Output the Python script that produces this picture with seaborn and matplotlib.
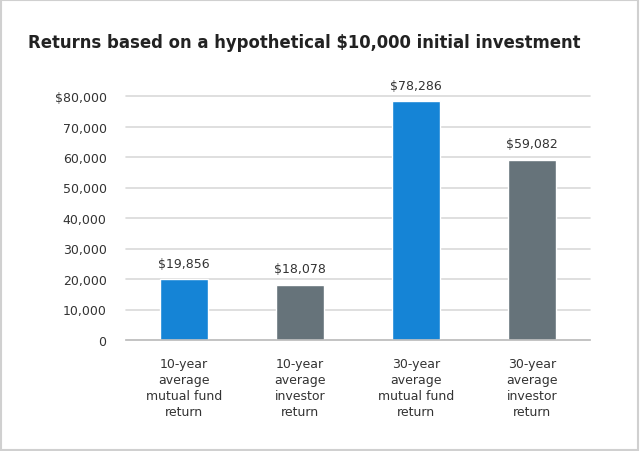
import matplotlib
matplotlib.use("Agg")
import matplotlib.pyplot as plt
import seaborn as sns
import pandas as pd
from matplotlib.patches import Rectangle
from matplotlib.ticker import FuncFormatter

categories = ["10-year\naverage\nmutual fund\nreturn",
              "10-year\naverage\ninvestor\nreturn",
              "30-year\naverage\nmutual fund\nreturn",
              "30-year\naverage\ninvestor\nreturn"]
values = [19856, 18078, 78286, 59082]
bar_colors = ["#1584D6", "#66737A", "#1584D6", "#66737A"]
title = "Returns based on a hypothetical $10,000 initial investment"

sns.set_theme(style="white")
plt.rcParams['font.family'] = ['DejaVu Sans']

df = pd.DataFrame({"cat": categories, "val": values})

fig = plt.figure(figsize=(6.4, 4.52), dpi=100)
ax = fig.add_axes([126/640, 1-341/452, 464/640, 244/452])
sns.barplot(data=df, x="cat", y="val", hue="cat", palette=bar_colors,
            legend=False, width=0.41, ax=ax, saturation=1)

ax.set_ylim(0, 80000)
ax.set_xlim(-0.5, 3.5)
ax.set_yticks(range(0, 80001, 10000))
ax.yaxis.set_major_formatter(FuncFormatter(
    lambda v, p: "$80,000" if v == 80000 else ("0" if v == 0 else f"{int(v):,}")))
ax.grid(axis="y", color="#D9D9D9", linewidth=1.2)
for gl in ax.get_ygridlines():
    gl.set_clip_on(False)
ax.set_axisbelow(True)
for s in ["top", "right", "left"]:
    ax.spines[s].set_visible(False)
ax.spines["bottom"].set_color("#BFBFBF")
ax.spines["bottom"].set_linewidth(1.2)
ax.tick_params(axis="both", length=0, labelsize=9, colors="#333333")
ax.tick_params(axis="y", pad=14)
ax.tick_params(axis="x", pad=12.5)
ax.set_xlabel("")
ax.set_ylabel("")
for lbl in ax.get_xticklabels():
    lbl.set_linespacing(1.3)

for i, v in enumerate(values):
    ax.annotate(f"${v:,}", (i, v), xytext=(0, 7), textcoords="offset points",
                ha="center", va="bottom", fontsize=9, color="#333333")

fig.text(28/640, 1-43/452, title, fontsize=11.9, fontweight="bold",
         color="#222222", ha="left", va="center")

fig.patches.append(Rectangle((0.002, 0.003), 0.995, 0.994, transform=fig.transFigure,
                             fill=False, edgecolor="#D0D0D0", linewidth=1.5))

fig.savefig("out.png", dpi=100)
